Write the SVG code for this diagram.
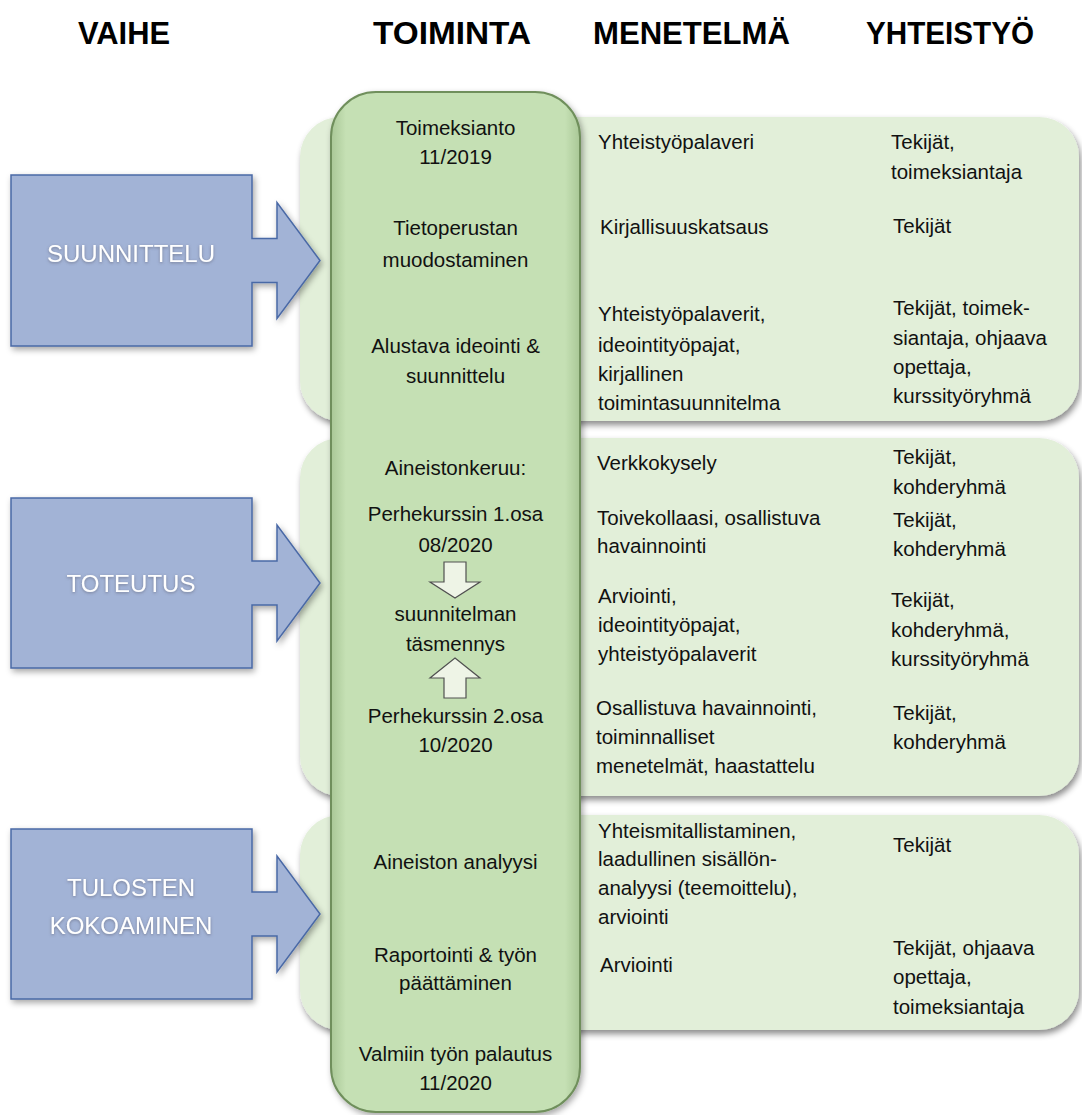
<svg xmlns="http://www.w3.org/2000/svg" width="1082" height="1115" viewBox="0 0 1082 1115">
<defs>
<filter id="sh" x="-10%" y="-10%" width="120%" height="125%">
<feDropShadow dx="2" dy="4" stdDeviation="3" flood-color="#000" flood-opacity="0.45"/>
</filter>
<filter id="sh2" x="-10%" y="-10%" width="125%" height="125%">
<feDropShadow dx="2" dy="3" stdDeviation="3" flood-color="#000" flood-opacity="0.35"/>
</filter>
<filter id="tg" x="-10%" y="-30%" width="120%" height="160%">
<feDropShadow dx="0" dy="1" stdDeviation="1.5" flood-color="#556" flood-opacity="0.6"/>
</filter>
<linearGradient id="colg" x1="0" y1="0" x2="1" y2="0">
<stop offset="0" stop-color="#a9c796"/>
<stop offset="0.06" stop-color="#c5e0b4"/>
<stop offset="0.94" stop-color="#c5e0b4"/>
<stop offset="1" stop-color="#a9c796"/>
</linearGradient>
</defs>
<style>
.hd{font-family:"Liberation Sans",Arial,sans-serif;font-weight:bold;font-size:31px;fill:#000}
.t{font-family:"Liberation Sans",Arial,sans-serif;font-size:20.5px;fill:#111}
.c{text-anchor:middle}
.panel{fill:#e2efd9;filter:url(#sh)}
.big{fill:#a2b3d6;stroke:#4a69a6;stroke-width:1.5;filter:url(#sh2)}
.bt{font-family:"Liberation Sans",Arial,sans-serif;font-size:24px;fill:#fff;text-anchor:middle;filter:url(#tg)}
.small{fill:#eef4e6;stroke:#505050;stroke-width:1.2}
</style>
<g id="headers">
<text class="hd" x="78" y="44" textLength="92" lengthAdjust="spacingAndGlyphs">VAIHE</text>
<text class="hd" x="373" y="44" textLength="158" lengthAdjust="spacingAndGlyphs">TOIMINTA</text>
<text class="hd" x="593" y="44" textLength="197" lengthAdjust="spacingAndGlyphs">MENETELMÄ</text>
<text class="hd" x="866" y="44" textLength="168" lengthAdjust="spacingAndGlyphs">YHTEISTYÖ</text>
</g>
<g id="panel-suunnittelu"><rect class="panel" x="300" y="117" width="779" height="304" rx="40"/></g>
<g id="panel-toteutus"><rect class="panel" x="300" y="438" width="779" height="358" rx="40"/></g>
<g id="panel-tulosten"><rect class="panel" x="300" y="815" width="779" height="215" rx="40"/></g>
<g id="phase-suunnittelu">
<path class="big" d="M11,175 H252 V238.5 H277 V202.5 L320,260.5 L277,318.5 V282.5 H252 V346 H11 Z"/>
<text class="bt" x="131" y="262">SUUNNITTELU</text>
</g>
<g id="phase-toteutus">
<path class="big" d="M11,498 H252 V561 H277 V525 L320,583 L277,641 V605 H252 V668 H11 Z"/>
<text class="bt" x="131" y="592">TOTEUTUS</text>
</g>
<g id="phase-tulosten">
<path class="big" d="M11,829 H252 V892 H277 V856 L320,914 L277,972 V936 H252 V999 H11 Z"/>
<text class="bt" x="131" y="896">TULOSTEN</text>
<text class="bt" x="131" y="934">KOKOAMINEN</text>
</g>
<g id="column-toiminta">
<rect x="331" y="92" width="249" height="1020" rx="45" fill="url(#colg)" stroke="#6f8f5c" stroke-width="2" filter="url(#sh2)"/>
<text class="t c" x="455.5" y="135">Toimeksianto</text>
<text class="t c" x="455.5" y="164">11/2019</text>
<text class="t c" x="455.5" y="235">Tietoperustan</text>
<text class="t c" x="455.5" y="267">muodostaminen</text>
<text class="t c" x="455.5" y="353">Alustava ideointi &amp;</text>
<text class="t c" x="455.5" y="383">suunnittelu</text>
<text class="t c" x="455.5" y="475">Aineistonkeruu:</text>
<text class="t c" x="455.5" y="521">Perhekurssin 1.osa</text>
<text class="t c" x="455.5" y="552">08/2020</text>
<text class="t c" x="455.5" y="621">suunnitelman</text>
<text class="t c" x="455.5" y="651">täsmennys</text>
<text class="t c" x="455.5" y="723">Perhekurssin 2.osa</text>
<text class="t c" x="455.5" y="752">10/2020</text>
<text class="t c" x="455.5" y="869">Aineiston analyysi</text>
<text class="t c" x="455.5" y="962">Raportointi &amp; työn</text>
<text class="t c" x="455.5" y="990">päättäminen</text>
<text class="t c" x="455.5" y="1061">Valmiin työn palautus</text>
<text class="t c" x="455.5" y="1090">11/2020</text>
</g>
<g id="connectors">
<path class="small" d="M444,562 H466 V582 H480 L455,598 L430,582 H444 Z"/>
<path class="small" d="M455,658 L480,678 H466 V698 H444 V678 H430 Z"/>
</g>
<g id="menetelma">
<text class="t" x="598" y="149">Yhteistyöpalaveri</text>
<text class="t" x="600" y="234">Kirjallisuuskatsaus</text>
<text class="t" x="598" y="321">Yhteistyöpalaverit,</text>
<text class="t" x="598" y="352">ideointityöpajat,</text>
<text class="t" x="598" y="381">kirjallinen</text>
<text class="t" x="598" y="410">toimintasuunnitelma</text>
<text class="t" x="597" y="470">Verkkokysely</text>
<text class="t" x="597" y="525">Toivekollaasi, osallistuva</text>
<text class="t" x="597" y="553">havainnointi</text>
<text class="t" x="598" y="603">Arviointi,</text>
<text class="t" x="598" y="632">ideointityöpajat,</text>
<text class="t" x="598" y="661">yhteistyöpalaverit</text>
<text class="t" x="596" y="715">Osallistuva havainnointi,</text>
<text class="t" x="596" y="744">toiminnalliset</text>
<text class="t" x="596" y="773">menetelmät, haastattelu</text>
<text class="t" x="598" y="838">Yhteismitallistaminen,</text>
<text class="t" x="598" y="866">laadullinen sisällön-</text>
<text class="t" x="598" y="895">analyysi (teemoittelu),</text>
<text class="t" x="598" y="924">arviointi</text>
<text class="t" x="600" y="972">Arviointi</text>
</g>
<g id="yhteistyo">
<text class="t" x="891" y="149">Tekijät,</text>
<text class="t" x="891" y="179">toimeksiantaja</text>
<text class="t" x="893" y="233">Tekijät</text>
<text class="t" x="893" y="315">Tekijät, toimek-</text>
<text class="t" x="893" y="345">siantaja, ohjaava</text>
<text class="t" x="893" y="374">opettaja,</text>
<text class="t" x="893" y="403">kurssityöryhmä</text>
<text class="t" x="893" y="464">Tekijät,</text>
<text class="t" x="893" y="494">kohderyhmä</text>
<text class="t" x="893" y="527">Tekijät,</text>
<text class="t" x="893" y="556">kohderyhmä</text>
<text class="t" x="891" y="607">Tekijät,</text>
<text class="t" x="891" y="637">kohderyhmä,</text>
<text class="t" x="891" y="666">kurssityöryhmä</text>
<text class="t" x="893" y="720">Tekijät,</text>
<text class="t" x="893" y="749">kohderyhmä</text>
<text class="t" x="893" y="852">Tekijät</text>
<text class="t" x="893" y="955">Tekijät, ohjaava</text>
<text class="t" x="893" y="984">opettaja,</text>
<text class="t" x="893" y="1014">toimeksiantaja</text>
</g>
</svg>
